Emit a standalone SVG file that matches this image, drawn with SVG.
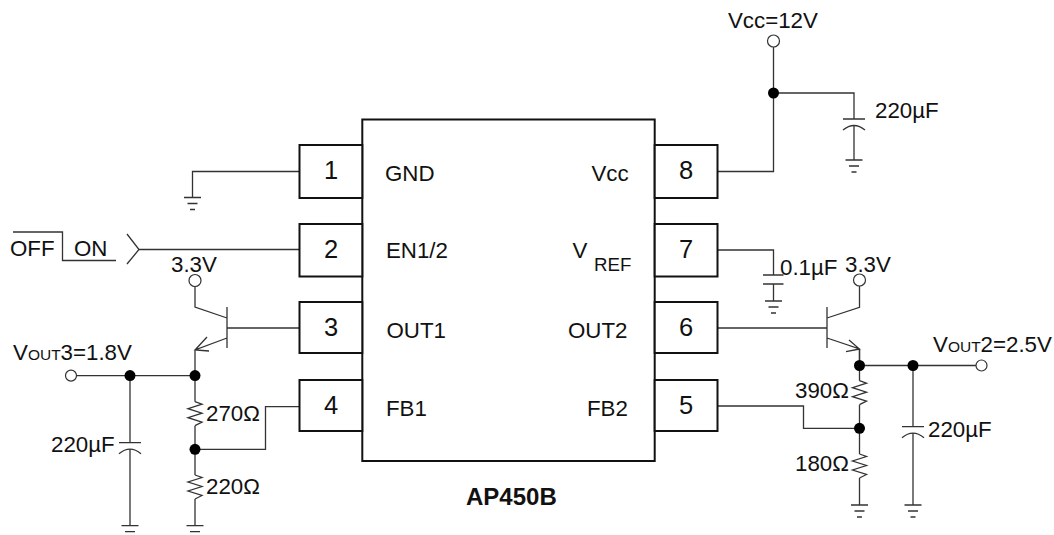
<svg xmlns="http://www.w3.org/2000/svg" width="1054" height="535" viewBox="0 0 1054 535">
<style>
text{font-family:"Liberation Sans",Arial,sans-serif;font-size:22.3px;fill:#111}
.s{font-size:15.5px}
.r{font-size:18.7px}
.b{font-weight:bold;font-size:24px}
.n{font-size:25.500px;text-anchor:middle}
.box{fill:#fff;stroke:#111;stroke-width:2}
.w{fill:none;stroke:#333;stroke-width:1.3}
.o{fill:#fff;stroke:#333;stroke-width:1.2}
.d{fill:#000}
</style>
<defs>
<g id="gnd" class="w"><path d="M-8.5 0H8.5M-5 6H5M-2.5 12H2.5"/></g>
<path id="res" class="w" d="M0 0L7 2.5L-7 7L7 11.5L-7 16L7 20.5L0 24"/>
<g id="cap" class="w"><path d="M-11 0H11M-11 11Q0 2 11 11"/></g>
</defs>
<g id="connectors">
<path class="w" d="M299 171.500H192.500V197.500"/>
<path class="w" d="M139 249.500H299M127 234L139 249.500L127 264M13 232H62.500V260.500H116"/>
<path class="w" d="M195 286V307L227 318M227 307V348M227 328H299M227 338L195 350V375.600M207 337L195 350L209 351"/>
<path class="w" d="M76.500 375.600H195V401.700M130 375.600V442.700M130 449V525.600M195 425.700V475M195 499V525.600M299 406.700H265.500V449.300H195"/>
<path class="w" d="M717 171.500H773.500V47M773.500 93H854V119M854 126V160"/>
<path class="w" d="M717 250H773.500V275M763 275H783.500M763 284H783.500M773.500 284V301"/>
<path class="w" d="M859.500 286V307.300L827 318M827 307V348M717 328H827M827 338L859.500 349V365.500M849 340L859.500 349L846 351.700"/>
<path class="w" d="M859.500 349V380.700M859.500 404.700V454M859.500 478V505M859.500 365.500H976M913 365.500V426.700M913 433V505M717 406H803.500V428.300H859.500"/>
<use href="#gnd" x="192.500" y="197.500"/>
<use href="#gnd" x="130" y="525.600"/>
<use href="#gnd" x="195" y="525.600"/>
<use href="#gnd" x="854" y="160"/>
<use href="#gnd" x="773.500" y="301"/>
<use href="#gnd" x="859.500" y="505"/>
<use href="#gnd" x="913" y="505"/>
<use href="#res" x="195" y="401.700"/>
<use href="#res" x="195" y="475"/>
<use href="#res" x="859.500" y="380.700"/>
<use href="#res" x="859.500" y="454"/>
<use href="#cap" x="130" y="442.700"/>
<use href="#cap" x="854" y="119"/>
<use href="#cap" x="913" y="426.700"/>
<circle class="o" cx="195" cy="280.500" r="6"/>
<circle class="o" cx="71" cy="375.600" r="5.500"/>
<circle class="o" cx="773.500" cy="41" r="6"/>
<circle class="o" cx="859.500" cy="280" r="6"/>
<circle class="o" cx="981.500" cy="365.500" r="5.500"/>
<circle class="d" cx="130" cy="375.600" r="5.500"/>
<circle class="d" cx="195" cy="375.600" r="5.500"/>
<circle class="d" cx="195" cy="449.300" r="5.500"/>
<circle class="d" cx="773.500" cy="93" r="5.500"/>
<circle class="d" cx="859.500" cy="365.500" r="5.500"/>
<circle class="d" cx="913" cy="365.500" r="5.500"/>
<circle class="d" cx="859.500" cy="428.300" r="5.500"/>
</g>
<g id="ic"><rect class="box" x="362.300" y="119.500" width="292.400" height="341.500"/>
<text x="385" y="180.500">GND</text><text x="386" y="258">EN1/2</text><text x="386.500" y="338">OUT1</text><text x="386" y="416">FB1</text>
<text x="591.500" y="180.500">Vcc</text><text x="572.500" y="258">V</text><text class="r" x="594" y="271">REF</text><text x="568" y="338">OUT2</text><text x="587" y="416">FB2</text>
<text class="b" x="466" y="505">AP450B</text></g>
<g id="pin1"><rect class="box" x="299.500" y="145" width="62.800" height="53"/><text class="n" x="331" y="179">1</text></g>
<g id="pin2"><rect class="box" x="299.500" y="224" width="62.800" height="52.500"/><text class="n" x="331" y="258">2</text></g>
<g id="pin3"><rect class="box" x="299.500" y="302" width="62.800" height="51"/><text class="n" x="331" y="336">3</text></g>
<g id="pin4"><rect class="box" x="299.500" y="380" width="62.800" height="51"/><text class="n" x="331" y="414">4</text></g>
<g id="pin8"><rect class="box" x="654.700" y="145" width="62.800" height="53"/><text class="n" x="686" y="179">8</text></g>
<g id="pin7"><rect class="box" x="654.700" y="224" width="62.800" height="52.500"/><text class="n" x="686" y="258">7</text></g>
<g id="pin6"><rect class="box" x="654.700" y="302" width="62.800" height="51"/><text class="n" x="686" y="336">6</text></g>
<g id="pin5"><rect class="box" x="654.700" y="380" width="62.800" height="51"/><text class="n" x="686" y="414">5</text></g>
<g id="labels">
<text x="10" y="256">OFF</text><text x="74" y="256">ON</text>
<text x="171" y="272">3.3V</text><text x="845" y="272">3.3V</text>
<text x="13" y="360">V<tspan class="s">OUT</tspan>3=1.8V</text>
<text x="933" y="352">V<tspan class="s">OUT</tspan>2=2.5V</text>
<text x="728" y="28">Vcc=12V</text>
<text x="875" y="118">220µF</text><text x="780" y="275">0.1µF</text>
<text x="51" y="452">220µF</text><text x="928" y="437">220µF</text>
<text x="206" y="421">270Ω</text><text x="206" y="494">220Ω</text>
<text x="795" y="398">390Ω</text><text x="795" y="471">180Ω</text>
</g>
</svg>
